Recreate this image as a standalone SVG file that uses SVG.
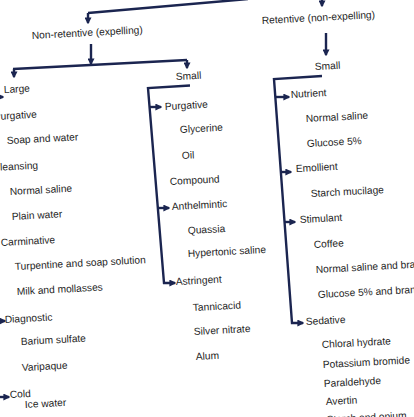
<svg xmlns="http://www.w3.org/2000/svg" width="414" height="417" viewBox="0 0 414 417">
<defs>
<style>
text{font-family:"Liberation Sans",Arial,sans-serif;font-size:10.2px;fill:#1e1e1e}
.c{fill:none;stroke:#1b2550;stroke-width:2.4;stroke-linejoin:miter}
</style>
<marker id="ah" viewBox="0 0 10 10" refX="8" refY="5" markerWidth="7" markerHeight="7" markerUnits="userSpaceOnUse" orient="auto"><path d="M0,0 L10,5 L0,10 z" fill="#1b2550"/></marker>
</defs>
<rect width="414" height="417" fill="#ffffff"/>
<g id="connectors">
<path class="c" d="M88,13 L248,-1"/>
<path class="c" d="M88,13 L88,23" marker-end="url(#ah)"/>
<path class="c" d="M322,-6 L322,6" marker-end="url(#ah)"/>
<path class="c" d="M91,44 L91,64" marker-end="url(#ah)"/>
<path class="c" d="M13,69 L187,60"/>
<path class="c" d="M14,69 L14,77" marker-end="url(#ah)"/>
<path class="c" d="M187,60 L187,68" marker-end="url(#ah)"/>
<path class="c" d="M326,33 L326,55" marker-end="url(#ah)"/>
<path class="c" d="M-8,86 L-2,400"/>
<path class="c" d="M-7,97 L3,97" marker-end="url(#ah)"/>
<path class="c" d="M-3,321 L5,321" marker-end="url(#ah)"/>
<path class="c" d="M-2,397 L9,397" marker-end="url(#ah)"/>
<path class="c" d="M190,85.5 L148,88 L164,283 L175,283" marker-end="url(#ah)"/>
<path class="c" d="M150,107 L161,107" marker-end="url(#ah)"/>
<path class="c" d="M158,208 L169,208" marker-end="url(#ah)"/>
<path class="c" d="M322,76 L274,79 L292,323 L303,323" marker-end="url(#ah)"/>
<path class="c" d="M275,97 L289,97" marker-end="url(#ah)"/>
<path class="c" d="M281,172 L291,172" marker-end="url(#ah)"/>
<path class="c" d="M285,222 L295,222" marker-end="url(#ah)"/>
</g>
<g id="n-nonretentive"><text x="32" y="39" transform="rotate(-3 32 39)">Non-retentive (expelling)</text></g>
<g id="n-retentive"><text x="262" y="24" transform="rotate(-3 262 24)">Retentive (non-expelling)</text></g>
<g id="n-large"><text x="4" y="93" transform="rotate(-3 4 93)">Large</text></g>
<g id="n-small-left"><text x="176" y="80" transform="rotate(-3 176 80)">Small</text></g>
<g id="n-small-right"><text x="315" y="70" transform="rotate(-3 315 70)">Small</text></g>
<g id="n-large-list">
<text x="-6" y="120" transform="rotate(-3 -6 120)">Purgative</text>
<text x="7" y="144" transform="rotate(-3 7 144)">Soap and water</text>
<text x="-7" y="171" transform="rotate(-3 -7 171)">Cleansing</text>
<text x="10" y="195" transform="rotate(-3 10 195)">Normal saline</text>
<text x="12" y="220" transform="rotate(-3 12 220)">Plain water</text>
<text x="1" y="246" transform="rotate(-3 1 246)">Carminative</text>
<text x="15" y="270" transform="rotate(-3 15 270)">Turpentine and soap solution</text>
<text x="17" y="295" transform="rotate(-3 17 295)">Milk and mollasses</text>
<text x="5" y="323" transform="rotate(-3 5 323)">Diagnostic</text>
<text x="21" y="345" transform="rotate(-3 21 345)">Barium sulfate</text>
<text x="22" y="371" transform="rotate(-3 22 371)">Varipaque</text>
<text x="10" y="398" transform="rotate(-3 10 398)">Cold</text>
<text x="25" y="408" transform="rotate(-3 25 408)">Ice water</text>
</g>
<g id="n-small-left-list">
<text x="165" y="110" transform="rotate(-3 165 110)">Purgative</text>
<text x="180" y="133" transform="rotate(-3 180 133)">Glycerine</text>
<text x="182" y="159" transform="rotate(-3 182 159)">Oil</text>
<text x="170" y="185" transform="rotate(-3 170 185)">Compound</text>
<text x="172" y="210" transform="rotate(-3 172 210)">Anthelmintic</text>
<text x="188" y="234" transform="rotate(-3 188 234)">Quassia</text>
<text x="188" y="257" transform="rotate(-3 188 257)">Hypertonic saline</text>
<text x="176" y="285" transform="rotate(-3 176 285)">Astringent</text>
<text x="193" y="311" transform="rotate(-3 193 311)">Tannicacid</text>
<text x="194" y="335" transform="rotate(-3 194 335)">Silver nitrate</text>
<text x="196" y="360" transform="rotate(-3 196 360)">Alum</text>
</g>
<g id="n-small-right-list">
<text x="291" y="98" transform="rotate(-3 291 98)">Nutrient</text>
<text x="306" y="122" transform="rotate(-3 306 122)">Normal saline</text>
<text x="307" y="147" transform="rotate(-3 307 147)">Glucose 5%</text>
<text x="296" y="172" transform="rotate(-3 296 172)">Emollient</text>
<text x="311" y="197" transform="rotate(-3 311 197)">Starch mucilage</text>
<text x="300" y="223" transform="rotate(-3 300 223)">Stimulant</text>
<text x="314" y="248" transform="rotate(-3 314 248)">Coffee</text>
<text x="316" y="273" transform="rotate(-3 316 273)">Normal saline and bran</text>
<text x="318" y="298" transform="rotate(-3 318 298)">Glucose 5% and bran</text>
<text x="306" y="325" transform="rotate(-3 306 325)">Sedative</text>
<text x="322" y="348" transform="rotate(-3 322 348)">Chloral hydrate</text>
<text x="323" y="368" transform="rotate(-3 323 368)">Potassium bromide</text>
<text x="324" y="387" transform="rotate(-3 324 387)">Paraldehyde</text>
<text x="326" y="405" transform="rotate(-3 326 405)">Avertin</text>
<text x="327" y="423" transform="rotate(-3 327 423)">Starch and opium</text>
</g>
</svg>
